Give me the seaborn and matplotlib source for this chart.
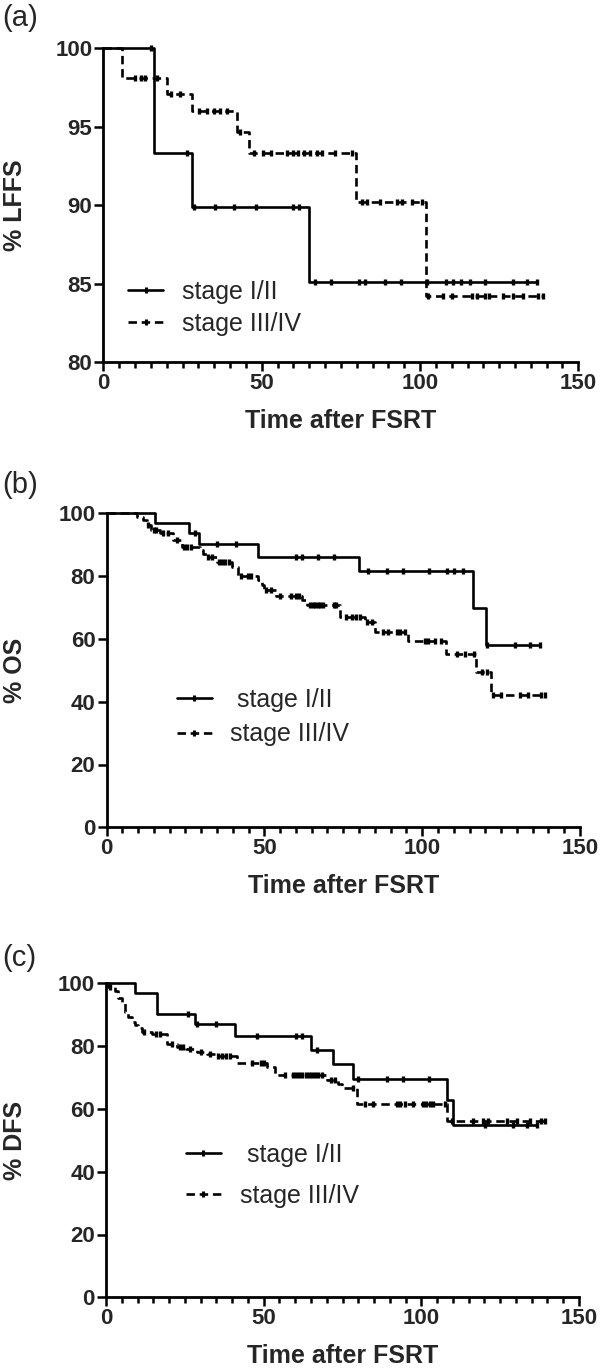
import numpy as np
import pandas as pd
import matplotlib
matplotlib.use("Agg")
import matplotlib.pyplot as plt
from matplotlib.lines import Line2D
from matplotlib.ticker import MultipleLocator
import seaborn as sns

# ---------------- data ----------------
# (a) LFFS
a_stage12_event_t = [16.0, 28.1, 65.0]
a_stage12_event_s = [93.3, 89.9, 85.1]
a_stage12_cens = [15.0, 26.3, 28.6, 35.1, 41.1, 48.1, 60.0, 61.8, 66.9, 71.8, 80.8, 82.6,
                  89.0, 93.9, 102.1, 108.1, 110.5, 113.0, 115.8, 120.5, 129.5, 133.7, 137.0]
a_stage34_event_t = [5.8, 20.2, 27.9, 42.1, 46.1, 79.8, 101.9]
a_stage34_event_s = [98.1, 97.1, 96.0, 94.7, 93.3, 90.2, 84.2]
a_stage34_cens = [10.0, 11.8, 13.0, 16.8, 21.3, 24.2, 30.3, 32.6, 34.9, 36.8, 38.9, 43.2,
                  47.4, 50.3, 52.8, 57.9, 60.0, 61.6, 63.2, 65.3, 67.4, 68.9, 73.2, 78.4,
                  81.6, 83.4, 87.4, 92.6, 94.2, 97.4, 100.5, 102.6, 107.2, 110.0, 116.3,
                  117.9, 120.5, 121.9, 126.3, 129.5, 132.6, 137.4, 138.9]

# (b) OS
b_stage12_event_t = [15.4, 26.2, 29.4, 48.1, 80.1, 116.2, 120.2]
b_stage12_event_s = [96.8, 93.6, 90.2, 86.2, 81.5, 69.9, 58.2]
b_stage12_cens = [28.0, 35.1, 41.0, 60.0, 61.8, 67.1, 72.1, 82.9, 88.9, 94.0, 102.2, 107.9,
                  110.0, 112.8, 120.6, 129.4, 134.1, 137.2]
b_stage34_event_t = [9.6, 11.5, 12.7, 14.0, 16.9, 21.2, 23.8, 29.6, 30.7, 31.9, 34.9, 39.7,
                     41.8, 48.1, 49.2, 49.9, 53.7, 61.8, 63.4, 74.0, 81.9, 85.0, 95.6, 107.7,
                     117.0, 121.8]
b_stage34_event_s = [98.9, 98.0, 96.3, 94.7, 93.6, 91.5, 89.4, 88.3, 86.9, 86.2, 84.4, 83.0,
                     80.1, 78.8, 77.2, 75.6, 73.8, 72.4, 70.8, 67.1, 65.3, 62.2, 59.4, 55.1,
                     49.5, 42.2]
b_stage34_cens = [13.0, 15.0, 15.6, 18.0, 19.5, 22.2, 24.5, 25.5, 26.8, 32.3, 33.3, 35.5,
                  36.5, 37.5, 38.8, 42.7, 44.8, 45.8, 50.5, 52.0, 55.0, 58.5, 60.0, 61.0,
                  64.5, 65.3, 66.1, 66.9, 67.7, 68.5, 72.0, 72.8, 76.0, 77.8, 79.0, 80.3,
                  82.6, 84.0, 87.6, 89.2, 91.9, 92.9, 94.5, 100.8, 101.9, 104.0, 106.1,
                  110.9, 113.5, 116.5, 118.8, 120.4, 122.5, 125.1, 130.9, 133.6, 137.8, 138.9]

# (c) DFS
c_stage12_event_t = [9.2, 16.3, 28.2, 40.9, 64.9, 72.1, 78.3, 108.2, 109.9]
c_stage12_event_s = [96.8, 90.2, 86.9, 83.2, 78.7, 74.2, 69.6, 62.8, 54.9]
c_stage12_cens = [26.1, 29.0, 35.0, 48.0, 60.2, 62.0, 66.8, 80.0, 89.0, 94.1, 102.5, 120.2,
                  129.2, 133.4, 136.6]
c_stage34_event_t = [0.7, 2.9, 3.9, 5.0, 6.0, 7.1, 8.2, 9.2, 10.3, 11.3, 14.5, 19.5, 22.4,
                     25.5, 28.8, 31.9, 34.6, 41.4, 51.0, 53.6, 70.0, 73.5, 74.7, 79.5, 108.0]
c_stage34_event_s = [98.9, 97.6, 95.3, 94.1, 91.0, 89.4, 87.8, 86.7, 85.7, 84.6, 83.8, 80.6,
                     79.8, 79.0, 78.2, 77.6, 76.8, 74.5, 73.3, 70.8, 69.1, 67.8, 66.6, 61.6,
                     56.2]
c_stage34_cens = [1.2, 12.0, 16.0, 17.0, 21.0, 23.5, 24.5, 26.5, 30.0, 33.0, 35.5, 36.8,
                  38.0, 39.3, 46.2, 49.0, 50.0, 56.8, 59.3, 60.3, 61.3, 62.3, 63.3, 64.3,
                  65.3, 66.3, 67.3, 68.5, 71.5, 72.5, 78.4, 82.1, 84.8, 92.2, 93.2, 94.8,
                  97.5, 100.6, 101.6, 102.8, 103.8, 107.5, 109.6, 116.5, 119.7, 121.2,
                  127.1, 130.2, 134.5, 137.8, 139.2]

panel_labels = ["(a)", "(b)", "(c)"]
y_labels = ["% LFFS", "% OS", "% DFS"]
x_label = "Time after FSRT"
legend_labels = [["stage I/II", "stage III/IV"],
                 [" stage I/II", "stage III/IV"],
                 [" stage I/II", "stage III/IV"]]
y_limits = [(80, 100), (0, 100), (0, 100)]
y_ticks = [[80, 85, 90, 95, 100], [0, 20, 40, 60, 80, 100], [0, 20, 40, 60, 80, 100]]
x_ticks = [0, 50, 100, 150]

# ---------------- styling ----------------
sns.set_style("ticks")
plt.rcParams["font.family"] = ["Liberation Sans", "DejaVu Sans"]

LW = 1.9
DASH = (0, (3.2, 1.8))
W, H = 600, 1372
fig = plt.figure(figsize=(6.0, 13.72), dpi=100)

# axes boxes in pixels: left, right, top, bottom
boxes = [(103.5, 578.3, 48.3, 362.3),
         (106.5, 580.0, 513.3, 827.3),
         (106.0, 579.0, 983.3, 1297.3)]
label_tops = [4, 471, 944]
legend_anchor = [(0.052, 0.173), (0.148, 0.351), (0.169, 0.388)]
legend_spacing = [0.34, 0.43, 0.67]

def km_df(ev_t, ev_s, cens):
    end = max(max(cens), max(ev_t))
    t = [0.0] + list(ev_t) + [end]
    s = [100.0] + list(ev_s) + [ev_s[-1]]
    return pd.DataFrame({"t": t, "s": s})

def cens_df(ev_t, ev_s, cens):
    levels = np.array([100.0] + list(ev_s))
    idx = np.searchsorted(np.array(ev_t), np.array(cens), side="right")
    return pd.DataFrame({"t": cens, "s": levels[idx]})

panels = [
    ((a_stage12_event_t, a_stage12_event_s, a_stage12_cens),
     (a_stage34_event_t, a_stage34_event_s, a_stage34_cens)),
    ((b_stage12_event_t, b_stage12_event_s, b_stage12_cens),
     (b_stage34_event_t, b_stage34_event_s, b_stage34_cens)),
    ((c_stage12_event_t, c_stage12_event_s, c_stage12_cens),
     (c_stage34_event_t, c_stage34_event_s, c_stage34_cens)),
]

for i, (g12, g34) in enumerate(panels):
    l, r, t, b = boxes[i]
    ax = fig.add_axes([l / W, 1 - b / H, (r - l) / W, (b - t) / H])
    ax.set_facecolor("white")

    for grp, ls in ((g12, "-"), (g34, DASH)):
        d = km_df(*grp)
        sns.lineplot(data=d, x="t", y="s", drawstyle="steps-post", estimator=None,
                     sort=False, color="black", linewidth=LW, linestyle=ls, ax=ax,
                     clip_on=False)
        c = cens_df(*grp)
        sns.scatterplot(data=c, x="t", y="s", marker="|", s=18, color="black",
                        linewidth=2.4, ax=ax, clip_on=False, zorder=3)

    ax.set_xlim(0, 150)
    ax.set_ylim(*y_limits[i])
    ax.set_xticks(x_ticks)
    ax.set_yticks(y_ticks[i])
    ax.xaxis.set_minor_locator(MultipleLocator(5))
    for sp in ("top", "right"):
        ax.spines[sp].set_visible(False)
    for sp in ("left", "bottom"):
        ax.spines[sp].set_linewidth(2.0)
        ax.spines[sp].set_color("black")
    ax.tick_params(axis="both", which="major", direction="out", length=6.5, width=1.8,
                   color="black", labelsize=16, pad=1.5)
    ax.tick_params(axis="x", which="minor", direction="out", length=4, width=1.8,
                   color="black")
    for lab in ax.get_xticklabels() + ax.get_yticklabels():
        lab.set_fontweight("bold")

    ax.set_xlabel(x_label, fontsize=18, fontweight="bold")
    ax.set_ylabel(y_labels[i], fontsize=18, fontweight="bold")
    ax.xaxis.set_label_coords(0.5, -0.148)
    ax.yaxis.set_label_coords((27 - l) / (r - l), 0.5)

    handles = [Line2D([], [], color="black", lw=LW, marker="|", ms=5, mew=2.2),
               Line2D([], [], color="black", lw=LW, linestyle=DASH, marker="|", ms=5, mew=2.2)]
    ax.legend(handles, legend_labels[i], loc="center left",
              bbox_to_anchor=legend_anchor[i], frameon=False, fontsize=18,
              handlelength=1.4, handletextpad=0.75, labelspacing=legend_spacing[i],
              borderpad=0, borderaxespad=0)

    fig.text(2 / W, 1 - label_tops[i] / H, panel_labels[i], fontsize=21,
             ha="left", va="top")

fig.savefig("out.png", dpi=100, facecolor="white")
